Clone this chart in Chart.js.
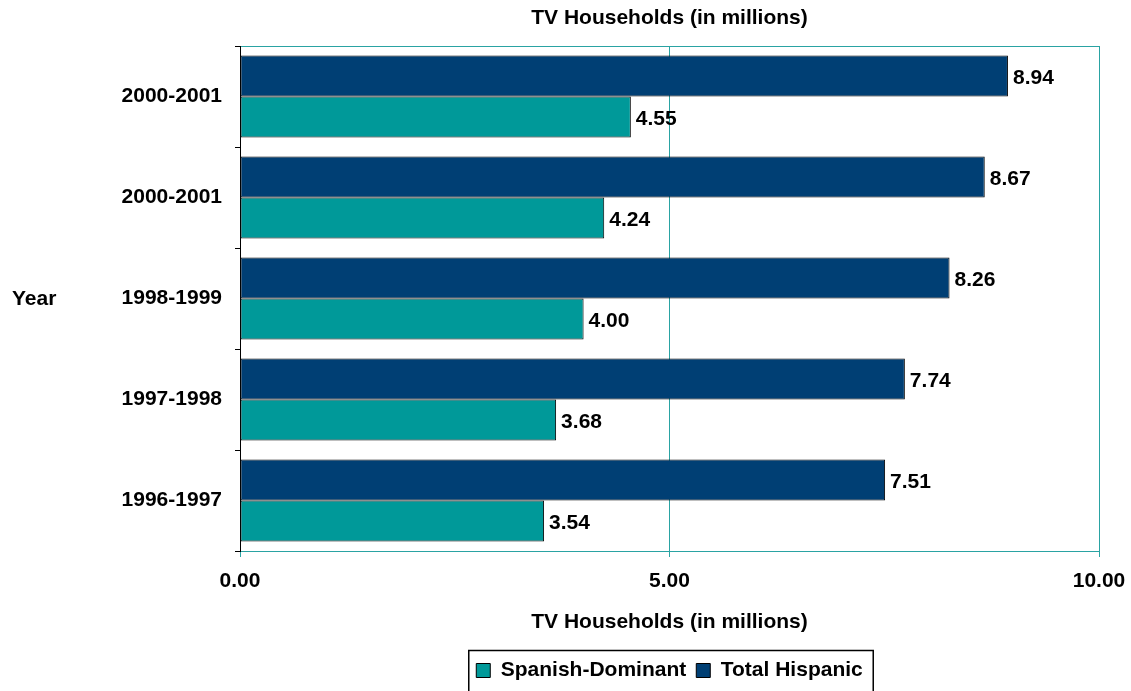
<!DOCTYPE html>
<html>
<head>
<meta charset="utf-8">
<script src="https://cdn.jsdelivr.net/npm/chart.js@4.4.1/dist/chart.umd.min.js"></script>
<style>
  html, body { margin: 0; padding: 0; background: #fff; }
  #wrap { width: 1131px; height: 691px; position: relative; }
</style>
</head>
<body>
<div id="wrap"><canvas id="tvChart"></canvas></div>
<script>
// values, top to bottom
const years = ["2000-2001", "2000-2001", "1998-1999", "1997-1998", "1996-1997"];
const totalHispanic = [8.94, 8.67, 8.26, 7.74, 7.51];
const spanishDominant = [4.55, 4.24, 4.00, 3.68, 3.54];
const xTicks = [0, 5, 10];

const teal = "#009999";
const navy = "#003f74";
const frame = "#2aa3a3";
const fontCss = "bold 21px 'Liberation Sans', Arial, sans-serif";
const boldFont = { family: "'Liberation Sans', Arial, sans-serif", size: 21, weight: "bold" };

// value text at the end of each bar
const barValues = {
  id: "barValues",
  afterDatasetsDraw(chart) {
    const ctx = chart.ctx;
    ctx.save();
    ctx.font = fontCss;
    ctx.fillStyle = "#000";
    ctx.textAlign = "left";
    ctx.textBaseline = "middle";
    chart.data.datasets.forEach((ds, i) => {
      chart.getDatasetMeta(i).data.forEach((bar, j) => {
        ctx.fillText(ds.data[j].toFixed(2), bar.x + 5, bar.y + 2);
      });
    });
    ctx.restore();
  },
};

// horizontal "Year" label and box around the legend
const extras = {
  id: "extras",
  afterDraw(chart) {
    const ctx = chart.ctx;
    const area = chart.chartArea;
    ctx.save();
    ctx.font = fontCss;
    ctx.fillStyle = "#000";
    ctx.textAlign = "left";
    ctx.textBaseline = "middle";
    ctx.fillText("Year", 12, (area.top + area.bottom) / 2 + 1);

    const boxes = chart.legend.legendHitBoxes;
    if (boxes && boxes.length) {
      const first = boxes[0];
      const last = boxes[boxes.length - 1];
      const left = first.left - 8;
      const right = last.left + last.width + 10;
      ctx.strokeStyle = "#000";
      ctx.lineWidth = 1.5;
      ctx.strokeRect(left + 0.5, chart.legend.top + 0.5, right - left, 60);
    }
    ctx.restore();
  },
};

new Chart(document.getElementById("tvChart"), {
  type: "bar",
  data: {
    labels: years,
    datasets: [
      {
        label: "Total Hispanic",
        data: totalHispanic,
        backgroundColor: navy,
        borderColor: "#000",
        borderWidth: 1,
        borderSkipped: false,
        categoryPercentage: 0.81,
        barPercentage: 1.0,
      },
      {
        label: "Spanish-Dominant",
        data: spanishDominant,
        backgroundColor: teal,
        borderColor: "#000",
        borderWidth: 1,
        borderSkipped: false,
        categoryPercentage: 0.81,
        barPercentage: 1.0,
      },
    ],
  },
  options: {
    indexAxis: "y",
    responsive: true,
    maintainAspectRatio: false,
    animation: false,
    layout: { padding: { left: 0, right: 32, top: 0, bottom: 0 } },
    scales: {
      x: {
        position: "bottom",
        min: 0,
        max: 10,
        afterBuildTicks: (s) => { s.ticks = xTicks.map((v) => ({ value: v })); },
        afterFit: (s) => { s.height = 99; s.paddingRight = 0; s.paddingLeft = 0; },
        ticks: {
          font: boldFont,
          color: "#000",
          padding: 12,
          maxRotation: 0,
          callback: (v) => Number(v).toFixed(2),
        },
        grid: { color: frame, lineWidth: 1, tickLength: 6 },
        border: { color: frame, width: 1 },
        title: {
          display: true,
          text: "TV Households (in millions)",
          font: boldFont,
          color: "#000",
          padding: { top: 0, bottom: 15 },
        },
      },
      xTop: {
        type: "linear",
        position: "top",
        min: 0,
        max: 10,
        afterFit: (s) => { s.height = 46; s.paddingRight = 0; s.paddingLeft = 0; },
        ticks: { display: false },
        grid: { display: false, drawTicks: false },
        border: { color: frame, width: 1 },
        title: {
          display: true,
          text: "TV Households (in millions)",
          font: boldFont,
          color: "#000",
          padding: { top: 6, bottom: 0 },
        },
      },
      y: {
        z: 1,
        afterFit: (s) => { s.width = 240; },
        ticks: { font: boldFont, color: "#000", padding: 13 },
        grid: {
          offset: true,
          drawOnChartArea: false,
          color: "#000",
          tickLength: 5,
        },
        border: { color: "#000", width: 1 },
      },
    },
    plugins: {
      title: { display: false },
      tooltip: { enabled: false },
      legend: {
        position: "bottom",
        fullSize: false,
        reverse: true,
        labels: {
          font: boldFont,
          color: "#000",
          boxWidth: 14,
          boxHeight: 14,
          padding: 10,
        },
      },
    },
  },
  plugins: [barValues, extras],
});
</script>
</body>
</html>
